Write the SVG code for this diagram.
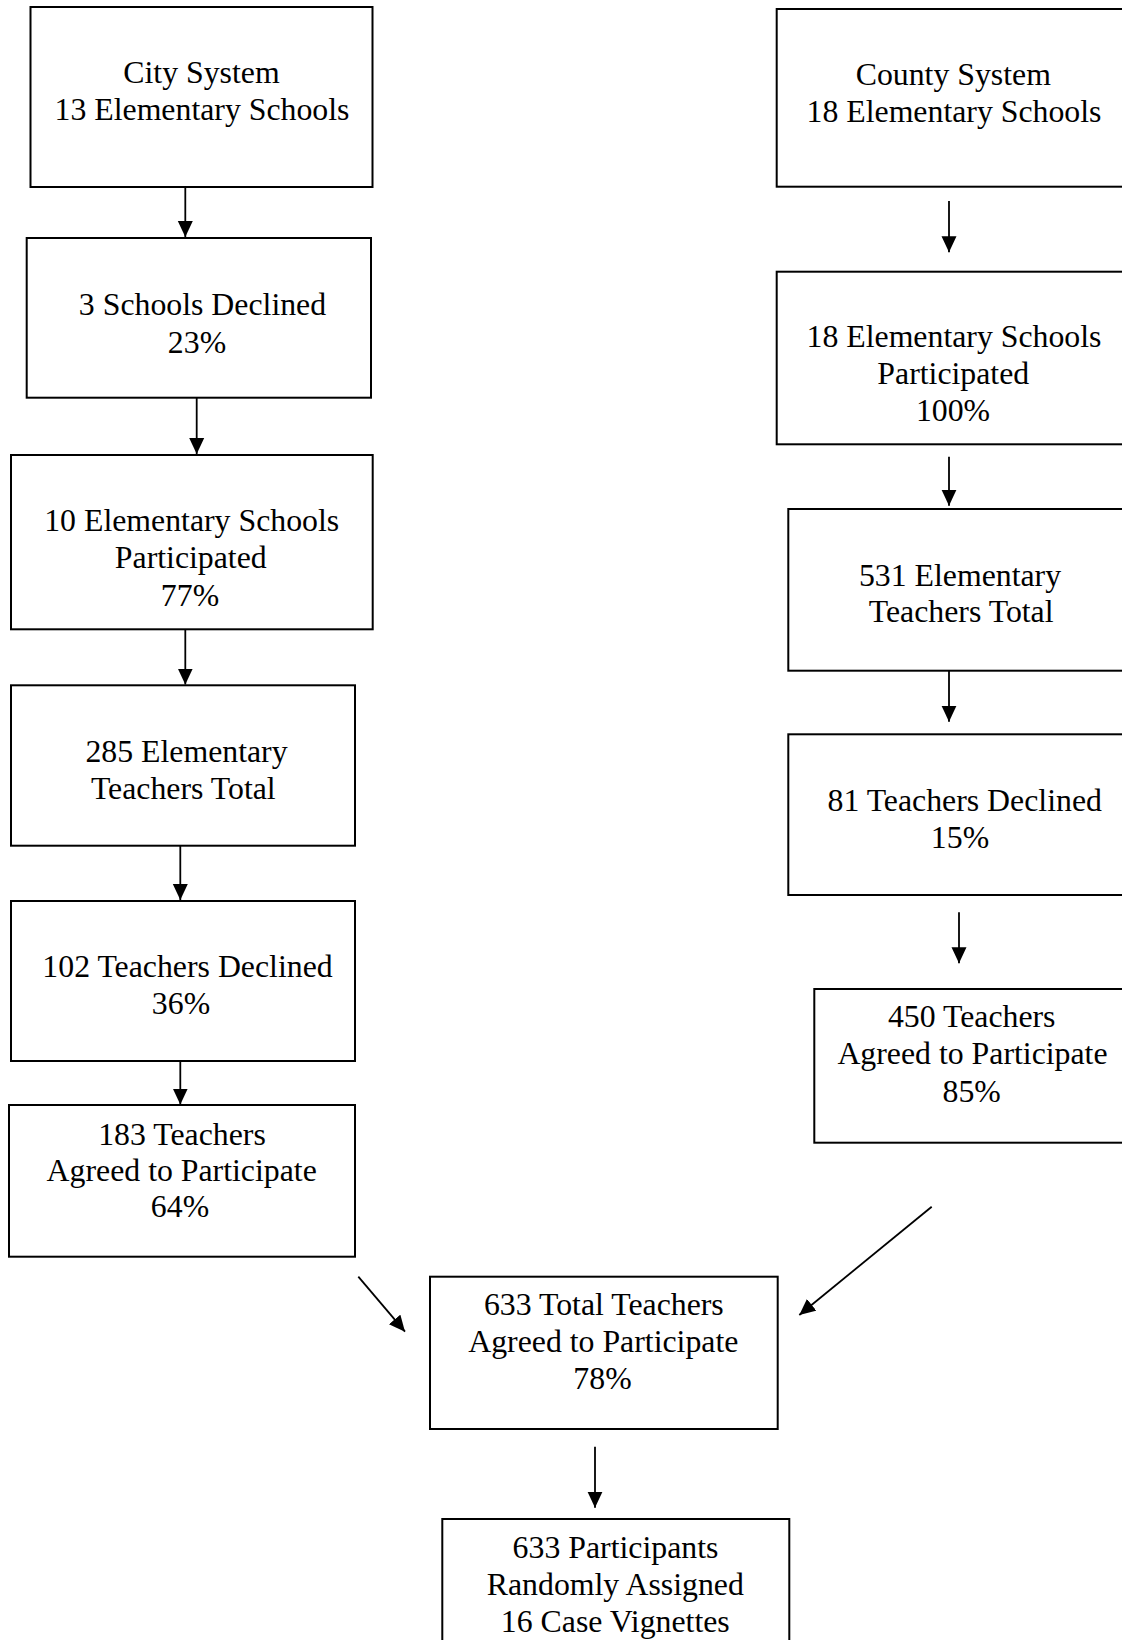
<svg xmlns="http://www.w3.org/2000/svg" width="1122" height="1640" viewBox="0 0 1122 1640">
<style>
rect.box{fill:#fff;stroke:#000;stroke-width:2}
text{font-family:"Liberation Serif","Times New Roman",serif;font-size:31.8px;fill:#000;text-anchor:middle}
.conn line{stroke:#000;stroke-width:1.8;marker-end:url(#ah)}
</style>
<defs>
<marker id="ah" markerUnits="userSpaceOnUse" markerWidth="18" markerHeight="18" viewBox="0 0 18 18" refX="16" refY="8" orient="auto">
<path d="M0,0.5 L16,8 L0,15.5 z" fill="#000"/>
</marker>
</defs>
<rect width="1122" height="1640" fill="#fff"/>
<g class="conn">
<line x1="185.3" y1="187" x2="185.3" y2="237"/>
<line x1="196.7" y1="398" x2="196.7" y2="454"/>
<line x1="185.3" y1="629.5" x2="185.3" y2="684.5"/>
<line x1="180.3" y1="846" x2="180.3" y2="900"/>
<line x1="180.3" y1="1061" x2="180.3" y2="1104.5"/>
<line x1="949" y1="201" x2="949" y2="252.3"/>
<line x1="949" y1="456.7" x2="949" y2="505.7"/>
<line x1="949" y1="671" x2="949" y2="721.7"/>
<line x1="959" y1="912.3" x2="959" y2="963.3"/>
<line x1="595" y1="1446.7" x2="595" y2="1507.7"/>
<line x1="358.3" y1="1276.7" x2="405" y2="1331.7"/>
<line x1="931.7" y1="1206.7" x2="799.3" y2="1315"/>
</g>
<g id="city">
<rect class="box" x="30.5" y="7" width="342" height="180"/>
<text x="201.5" y="82.7">City System</text>
<text x="202" y="120">13 Elementary Schools</text>
</g>
<g id="city-declined">
<rect class="box" x="26.7" y="238" width="344.3" height="159.7"/>
<text x="202.5" y="315">3 Schools Declined</text>
<text x="197" y="352.7">23%</text>
</g>
<g id="city-participated">
<rect class="box" x="11" y="455" width="361.7" height="174.3"/>
<text x="191.7" y="531">10 Elementary Schools</text>
<text x="190.8" y="568.3">Participated</text>
<text x="190" y="605.7">77%</text>
</g>
<g id="city-teachers">
<rect class="box" x="11" y="685.3" width="344" height="160.4"/>
<text x="186.5" y="762.3">285 Elementary</text>
<text x="183.3" y="799">Teachers Total</text>
</g>
<g id="city-teachers-declined">
<rect class="box" x="11" y="901" width="344" height="160"/>
<text x="187.5" y="976.7">102 Teachers Declined</text>
<text x="181" y="1014.3">36%</text>
</g>
<g id="city-agreed">
<rect class="box" x="9" y="1105" width="346" height="151.7"/>
<text x="182" y="1145">183 Teachers</text>
<text x="181.7" y="1180.7">Agreed to Participate</text>
<text x="180" y="1217.3">64%</text>
</g>
<g id="county">
<rect class="box" x="776.7" y="9" width="360" height="177.7"/>
<text x="953.3" y="85">County System</text>
<text x="954" y="121.7">18 Elementary Schools</text>
</g>
<g id="county-participated">
<rect class="box" x="776.7" y="271.7" width="360" height="172.6"/>
<text x="954" y="346.7">18 Elementary Schools</text>
<text x="953.3" y="384.3">Participated</text>
<text x="953" y="420.7">100%</text>
</g>
<g id="county-teachers">
<rect class="box" x="788.3" y="509" width="350" height="161.7"/>
<text x="960" y="585.7">531 Elementary</text>
<text x="961.2" y="621.7">Teachers Total</text>
</g>
<g id="county-teachers-declined">
<rect class="box" x="788.3" y="734.3" width="350" height="160.7"/>
<text x="964.7" y="811">81 Teachers Declined</text>
<text x="960" y="848.3">15%</text>
</g>
<g id="county-agreed">
<rect class="box" x="814.3" y="989" width="320" height="153.7"/>
<text x="971.7" y="1026.7">450 Teachers</text>
<text x="972.5" y="1064.3">Agreed to Participate</text>
<text x="971.7" y="1101.7">85%</text>
</g>
<g id="total-agreed">
<rect class="box" x="430" y="1276.7" width="347.7" height="152.3"/>
<text x="603.8" y="1315">633 Total Teachers</text>
<text x="603.3" y="1351.7">Agreed to Participate</text>
<text x="602.5" y="1389.3">78%</text>
</g>
<g id="participants">
<rect class="box" x="442.3" y="1519" width="347" height="200"/>
<text x="615.5" y="1558.3">633 Participants</text>
<text x="615.3" y="1595">Randomly Assigned</text>
<text x="615.3" y="1631.7">16 Case Vignettes</text>
</g>
</svg>
